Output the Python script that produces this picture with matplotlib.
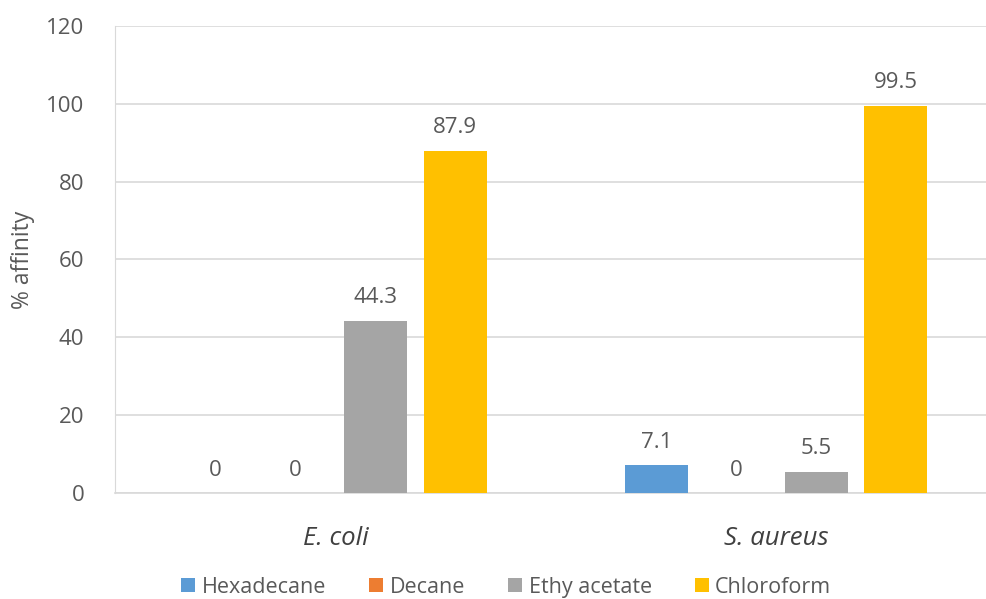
import matplotlib

matplotlib.use("Agg")
import matplotlib.pyplot as plt
import numpy as np

# data
groups = ["E. coli", "S. aureus"]
solvents = ["Hexadecane", "Decane", "Ethy acetate", "Chloroform"]
hexadecane = [0, 7.1]
decane = [0, 0]
ethyl_acetate = [44.3, 5.5]
chloroform = [87.9, 99.5]
yticks = [0, 20, 40, 60, 80, 100, 120]

colors = ["#5B9BD5", "#ED7D31", "#A5A5A5", "#FFC000"]
TXT = "#595959"

plt.rcParams.update({"font.family": ["Open Sans", "DejaVu Sans"]})

fig = plt.figure(figsize=(9.87, 5.99), dpi=100)
ax = fig.add_axes([0.1165, 0.177, 0.8835, 0.7796])

x = np.arange(len(groups))
width = 0.143
step = 0.181
series = [hexadecane, decane, ethyl_acetate, chloroform]
for i, (name, vals, c) in enumerate(zip(solvents, series, colors)):
    pos = x + (i - 1.5) * step
    ax.bar(pos, vals, width, color=c, label=name, zorder=3)
    for p, v in zip(pos, vals):
        ax.text(p, v + 3.2, f"{v:g}", ha="center", va="bottom", fontsize=16, color=TXT)

ax.set_xlim(-0.5, 1.478)
ax.set_ylim(0, 120)
ax.set_yticks(yticks)
ax.set_xticks(x)
ax.set_xticklabels(groups, fontsize=18.5, style="italic", color="#404040")
ax.tick_params(axis="y", labelsize=16, labelcolor=TXT, length=0, pad=22)
ax.tick_params(axis="x", length=0, pad=24)
ax.grid(axis="y", color="#D9D9D9", linewidth=1.2, zorder=0)
for s in ("top", "right"):
    ax.spines[s].set_visible(False)
ax.spines["left"].set_color("#D9D9D9")
ax.spines["bottom"].set_color("#D9D9D9")
ax.spines["bottom"].set_linewidth(1.2)
ax.set_ylabel("% affinity", fontsize=16.5, color=TXT, labelpad=8)

fig.legend(
    loc="center",
    bbox_to_anchor=(0.513, 0.02),
    ncol=4,
    frameon=False,
    fontsize=15.5,
    handlelength=0.65,
    handleheight=0.65,
    handletextpad=0.3,
    columnspacing=2.0,
    labelcolor=TXT,
)

fig.savefig("out.png", dpi=100, facecolor="white")
